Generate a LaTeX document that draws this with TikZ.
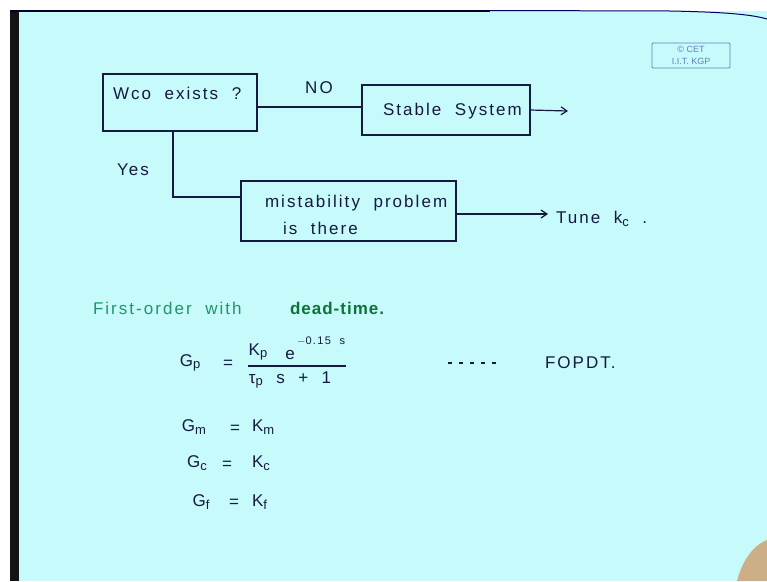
\documentclass[tikz,border=0pt]{standalone}
\usepackage{fontspec}
\setmainfont{Liberation Sans}[LetterSpace=12,WordSpace=2]
\newfontfamily\logofont{Liberation Sans}
\newfontfamily\tightfont{Liberation Sans}[LetterSpace=6]
\usetikzlibrary{arrows.meta}

\definecolor{board}{RGB}{198,250,251}
\definecolor{ink}{RGB}{22,26,62}
\definecolor{greenA}{RGB}{30,150,105}
\definecolor{greenB}{RGB}{15,115,55}
\definecolor{logoblue}{RGB}{105,125,185}
\definecolor{skin}{RGB}{205,175,135}

% lowered index as it is written by hand
\newcommand\lowsub[1]{\raisebox{-2.5pt}{\fontsize{13}{14}\selectfont #1}}

\tikzset{
  every node/.style={inner sep=0pt, outer sep=0pt, text=ink},
  hand/.style={font=\fontsize{17}{19}\selectfont},
  small/.style={font=\fontsize{11}{12}\selectfont},
  box/.style={draw=ink, line width=1.2pt, rectangle, minimum width=#1},
  wire/.style={draw=ink, line width=1.2pt},
  flow/.style={wire, -{Straight Barb[length=6pt,width=8pt]}},
}

\begin{document}
\begin{tikzpicture}[x=1pt,y=-1pt]
\useasboundingbox (0,0) rectangle (767,581);

% board, frame edges
\fill[white] (0,0) rectangle (767,581);
\fill[board] (19,11) rectangle (767,581);
\fill[black!92] (10,10) rectangle (19,581);
\draw[line width=2.4pt, black!85!blue] (10,11) -- (490,11);
\draw[line width=1pt, black!60!blue] (490,10.5) -- (670,11)
  .. controls (720,12) and (750,14) .. (767,19);

% logo
\node[draw=logoblue, line width=0.9pt, rounded corners=1pt,
      minimum width=78pt, minimum height=25pt] (logo) at (691,55.5) {};
\node[text=logoblue, font=\logofont\fontsize{9}{10}\selectfont] (logo1) at (691,49.5) {\textcopyright\ CET};
\node[text=logoblue, font=\logofont\fontsize{9}{10}\selectfont] (logo2) at (691,61.5) {I.I.T. KGP};

% decision flow
\node[box=154pt, minimum height=57pt] (q) at (180,102.5) {};
\node[box=168pt, minimum height=50pt] (s) at (446,110) {};
\node[box=215pt, minimum height=60pt] (m) at (348.5,211) {};

\node[hand, anchor=west] (qt) at (113,93) {Wco exists ?};
\node[hand] (no) at (319,88) {NO};
\node[hand, anchor=west] (st) at (383,111) {Stable System};
\node[hand] (yes) at (133,170) {Yes};
\node[hand, anchor=west] (mt1) at (265,203) {mistability problem};
\node[hand, anchor=west] (mt2) at (283,228) {is there};
\node[hand, anchor=west] (tune) at (556,219) {Tune k\lowsub{c} .};

\coordinate (o1) at (568,111);
\coordinate (yb) at (173,197);
\coordinate (o2) at (548,214);

\draw[wire] ([yshift=-4.5pt]q.east) -- ([yshift=-4.5pt]q.east -| s.west);
\draw[flow] (s.east) -- (o1);
\draw[wire] (q.south -| yb) -- (yb) -- (yb -| m.west);
\draw[flow] ([yshift=-3pt]m.east) -- (o2);

% model text
\node[hand, anchor=west, text=greenA] (h1) at (93,308) {First-order with};
\node[anchor=west, text=greenB, font=\tightfont\bfseries\fontsize{17}{19}\selectfont] (h2) at (290,308) {dead-time.};

% G_p fraction
\node[hand] (gp) at (190,363) {G\lowsub{p}};
\node[hand] (eq1) at (228,364) {=};
\node[hand] (kp) at (258,352) {K\lowsub{p}};
\node[hand] (ee) at (290,355) {e};
\node[small, anchor=west] (ex) at (297,341) {$-$0.15 s};
\coordinate (barl) at (248,366);
\coordinate (barr) at (346,366);
\draw[wire] (barl) -- (barr);
\node[hand] (den) at (290,380) {τ\lowsub{p} s + 1};

\coordinate (d1) at (448,363);
\coordinate (d2) at (498,363);
\draw[wire, dash pattern=on 4pt off 7pt] (d1) -- (d2);
\node[hand, anchor=west] (fopdt) at (545,363) {FOPDT.};

% gains
\node[hand] (gm) at (194,427) {G\lowsub{m}};
\node[hand] (eq2) at (235,429) {=};
\node[hand, anchor=west] (km) at (252,427) {K\lowsub{m}};
\node[hand] (gc) at (197,463) {G\lowsub{c}};
\node[hand] (eq3) at (227,465) {=};
\node[hand, anchor=west] (kc) at (252,463) {K\lowsub{c}};
\node[hand] (gf) at (201,502) {G\lowsub{f}};
\node[hand] (eq4) at (234,503) {=};
\node[hand, anchor=west] (kf) at (252,502) {K\lowsub{f}};

% hand at lower right
\fill[skin] (737,581) .. controls (742,562) and (752,546) .. (767,540) -- (767,581) -- cycle;
\end{tikzpicture}
\end{document}
